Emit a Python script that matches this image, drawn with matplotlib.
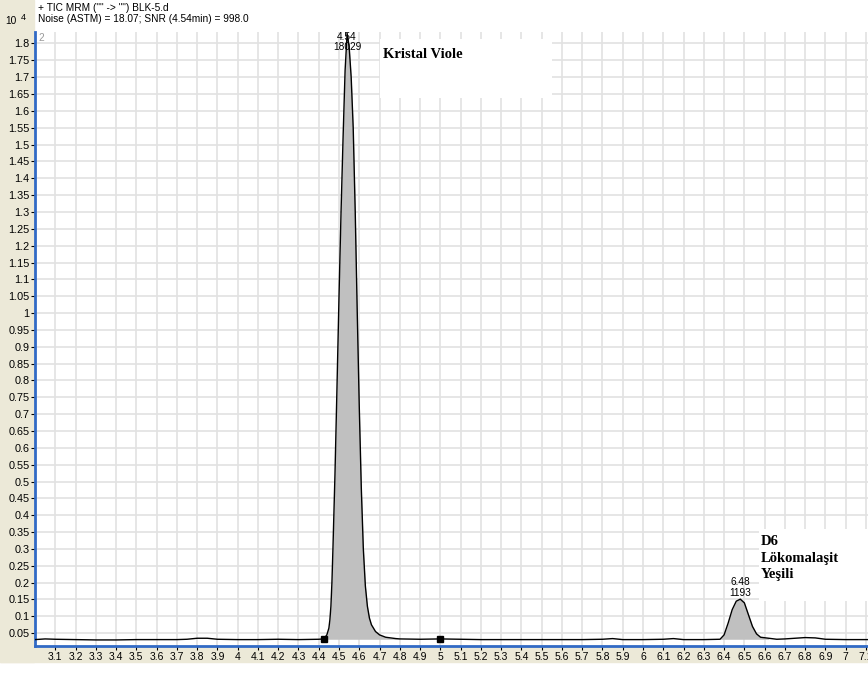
import matplotlib.pyplot as plt
import matplotlib.patches as mpatches
import numpy as np

# chromatogram trace (time in min, intensity x10^4)
t = [3.0, 3.05, 3.1, 3.2, 3.3, 3.4, 3.5, 3.6, 3.7, 3.75, 3.8, 3.85, 3.9, 4.0, 4.1, 4.2, 4.3, 4.4,
     4.425, 4.44, 4.45, 4.455, 4.46, 4.465, 4.47, 4.48, 4.49, 4.50, 4.51, 4.52, 4.53, 4.54,
     4.55, 4.56, 4.57, 4.58, 4.59, 4.60, 4.61, 4.62, 4.63, 4.64, 4.65, 4.66, 4.68, 4.70, 4.73,
     4.78, 4.80, 4.9, 5.0, 5.1, 5.2, 5.3, 5.4, 5.5, 5.6, 5.7, 5.8, 5.85, 5.9, 6.0, 6.1, 6.15,
     6.2, 6.3, 6.38, 6.40, 6.42, 6.44, 6.46, 6.48, 6.50, 6.52, 6.54, 6.56, 6.58, 6.62, 6.66,
     6.7, 6.75, 6.8, 6.85, 6.9, 7.0, 7.11]
y = [0.031, 0.033, 0.032, 0.031, 0.030, 0.030, 0.031, 0.031, 0.031, 0.032, 0.035, 0.035, 0.032,
     0.031, 0.031, 0.032, 0.031, 0.032,
     0.033, 0.045, 0.065, 0.09, 0.13, 0.20, 0.30, 0.52, 0.78, 1.05, 1.30, 1.52, 1.72, 1.83,
     1.79, 1.70, 1.55, 1.30, 1.00, 0.72, 0.48, 0.30, 0.19, 0.13, 0.095, 0.075, 0.055, 0.045, 0.038,
     0.034, 0.033, 0.032, 0.033, 0.032, 0.031, 0.031, 0.031, 0.031, 0.031, 0.031, 0.032, 0.034, 0.031,
     0.031, 0.032, 0.034, 0.031, 0.031, 0.032, 0.045, 0.08, 0.12, 0.145, 0.151, 0.14, 0.105,
     0.07, 0.048, 0.038, 0.035, 0.032, 0.033, 0.035, 0.037, 0.036, 0.032, 0.031, 0.031]

# peak labels: time, label y positions (x10^4), texts
peak_t = [4.54, 6.48]
peak_rt = ['4.54', '6.48']
peak_area = ['18029', '1193']
rt_y = [1.819, 0.202]
area_y = [1.789, 0.169]

fill_ranges = [(4.425, 4.80), (6.38, 6.62)]
int_marks_t = [4.425, 5.0]
int_marks_y = [0.033, 0.033]

yticks = [round(0.05 * i, 2) for i in range(1, 37)]
ylabels = [('%g' % v) for v in yticks]
xticks = [round(3.1 + 0.1 * i, 1) for i in range(41)]
xlabels = [('%g' % v) for v in xticks]

W, H = 868, 673
fig = plt.figure(figsize=(W / 100, H / 100), dpi=100)
fig.patch.set_facecolor('white')
beige = '#ECE9D8'
fig.patches.append(mpatches.Rectangle((0, 11 / H), 34 / W, 1 - 11 / H, transform=fig.transFigure,
                                      color=beige, zorder=-1))
fig.patches.append(mpatches.Rectangle((0, 11 / H), 1, 16 / H, transform=fig.transFigure,
                                      color=beige, zorder=-1))

ax = fig.add_axes([35 / W, 27 / H, 1 - 35 / W, (646 - 32) / H])
ax.set_xlim(3.0, 7.11)
ax.set_ylim(0.012, 1.834)

t_arr = np.array(t)
y_arr = np.array(y)
for a, b in fill_ranges:
    m = (t_arr >= a) & (t_arr <= b)
    ax.fill_between(t_arr[m], 0.032, y_arr[m], color='#C0C0C0', zorder=2, lw=0)
ax.plot(t, y, color='black', lw=1.0, zorder=3)
ax.plot(int_marks_t, int_marks_y, 's', color='black', ms=4, zorder=4)

for px, l1, l2, y1, y2 in zip(peak_t, peak_rt, peak_area, rt_y, area_y):
    ax.text(px, y1, l1, ha='center', va='center', fontsize=7.3, family='Liberation Sans', zorder=5)
    ax.text(px, y2, l2, ha='center', va='center', fontsize=7.3, family='Liberation Sans', zorder=5)

ax.set_xticks(xticks)
ax.set_xticklabels(xlabels, fontsize=7.5, family='Liberation Sans')
ax.set_yticks(yticks)
ax.set_yticklabels(ylabels, fontsize=7.8, family='Liberation Sans')
ax.tick_params(axis='both', length=3, width=0.8, pad=1)
ax.grid(True, color='#E2E2E2', lw=1.2, zorder=0)
ax.set_axisbelow(True)
for s in ['top', 'right']:
    ax.spines[s].set_visible(False)
for s in ['left', 'bottom']:
    ax.spines[s].set_color('#316AC5')
    ax.spines[s].set_linewidth(2)

ax.text(3.015, 1.83, '2', color='#999999', fontsize=7.3, family='Liberation Sans', va='top')

# white label boxes
ax.add_patch(mpatches.Rectangle((4.70, 1.638), 0.85, 0.175, facecolor='white', edgecolor='none', zorder=1))
ax.text(4.715, 1.766, 'Kristal Viole', fontsize=10.5, fontweight='bold', family='Liberation Serif',
        va='center', ha='left', zorder=6)
ax.add_patch(mpatches.Rectangle((6.57, 0.146), 0.6, 0.214, facecolor='white', edgecolor='none', zorder=1))
ax.text(6.58, 0.342, 'D6\nLökomalaşit\nYeşili', fontsize=10.5, fontweight='bold',
        family='Liberation Serif', va='top', ha='left', linespacing=1.38, zorder=6)

fig.text(38 / W, 1 - 8 / H, '+ TIC MRM ("" -> "") BLK-5.d', fontsize=7.3,
         family='Liberation Sans', va='center')
fig.text(38 / W, 1 - 19 / H, 'Noise (ASTM) = 18.07; SNR (4.54min) = 998.0', fontsize=7.3,
         family='Liberation Sans', va='center')
fig.text(5 / W, 1 - 21 / H, '10', fontsize=7.3, family='Liberation Sans', va='center')
fig.text(21 / W, 1 - 17 / H, '4', fontsize=6.5, family='Liberation Sans', va='center')

fig.savefig('out.png', dpi=100)
